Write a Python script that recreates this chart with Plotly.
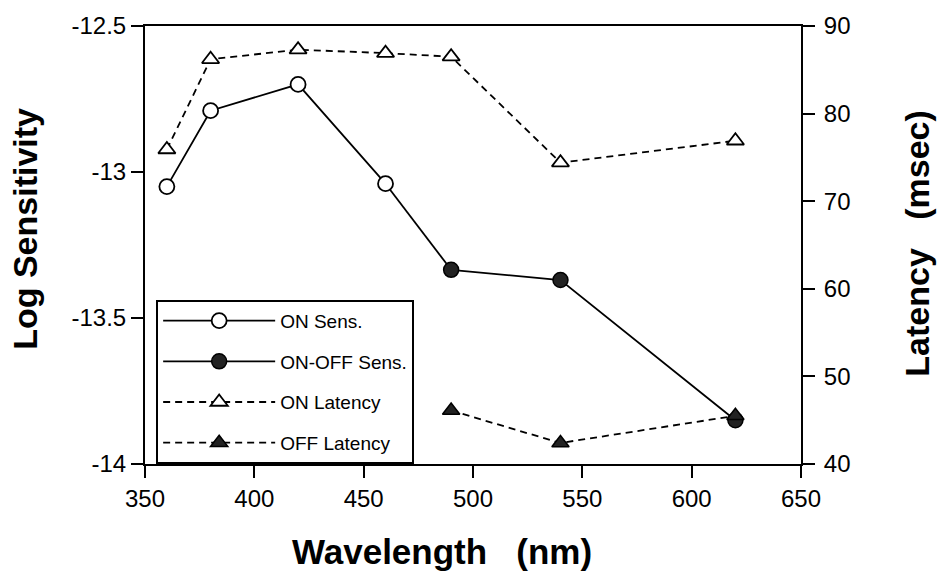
import plotly.graph_objects as go

# ---- data ----
wl_on_sens = [360, 380, 420, 460]
on_sens = [-13.05, -12.79, -12.70, -13.04]

wl_onoff_sens = [490, 540, 620]
onoff_sens = [-13.335, -13.37, -13.85]

wl_on_lat = [360, 380, 420, 460, 490, 540, 620]
on_lat = [75.9, 86.2, 87.3, 86.9, 86.5, 74.4, 76.9]

wl_off_lat = [490, 540, 620]
off_lat = [46.1, 42.4, 45.5]

x_ticks = [350, 400, 450, 500, 550, 600, 650]
y_left_ticks = [-14, -13.5, -13, -12.5]
y_left_text = ["-14", "-13.5", "-13", "-12.5"]
y_right_ticks = [40, 50, 60, 70, 80, 90]

x_title = "Wavelength\u00a0\u00a0\u00a0(nm)"
y_title = "Log Sensitivity"
y2_title = "Latency\u00a0\u00a0\u00a0(msec)"

FONT = "Liberation Sans, Arial, Helvetica, sans-serif"
LW = 1.8

fig = go.Figure()

# solid connector between open and filled circle series
fig.add_trace(go.Scatter(
    x=[wl_on_sens[-1], wl_onoff_sens[0]], y=[on_sens[-1], onoff_sens[0]],
    mode="lines", line=dict(color="black", width=LW), showlegend=False,
    hoverinfo="skip"))

fig.add_trace(go.Scatter(
    x=wl_on_sens, y=on_sens, name="ON Sens.", mode="lines+markers",
    line=dict(color="black", width=LW),
    marker=dict(symbol="circle", size=15, color="white",
                line=dict(color="black", width=1.8)),
    legendgroup="a"))

fig.add_trace(go.Scatter(
    x=wl_onoff_sens, y=onoff_sens, name="ON-OFF Sens.", mode="lines+markers",
    line=dict(color="black", width=LW),
    marker=dict(symbol="circle", size=15, color="#222222",
                line=dict(color="black", width=1.5)),
    legendgroup="b"))

fig.add_trace(go.Scatter(
    x=wl_on_lat, y=on_lat, name="ON Latency", mode="lines+markers",
    yaxis="y2",
    line=dict(color="black", width=LW, dash="7px,5px"),
    marker=dict(symbol="triangle-up", size=15, color="white",
                line=dict(color="black", width=1.8)),
    legendgroup="c"))

fig.add_trace(go.Scatter(
    x=wl_off_lat, y=off_lat, name="OFF Latency", mode="lines+markers",
    yaxis="y2",
    line=dict(color="black", width=LW, dash="7px,5px"),
    marker=dict(symbol="triangle-up", size=15, color="#222222",
                line=dict(color="black", width=1.5)),
    legendgroup="d"))

axis_common = dict(
    showline=True, linecolor="black", linewidth=2,
    ticks="outside", ticklen=12, tickwidth=2, tickcolor="black",
    showgrid=False, zeroline=False,
    tickfont=dict(family=FONT, size=24, color="black"),
)

x_title_font = dict(family=FONT, size=35, color="black", weight="bold")
y_title_font = dict(family=FONT, size=34, color="black", weight="bold")

fig.update_layout(
    width=944, height=580,
    margin=dict(l=145, r=143, t=21, b=116),
    paper_bgcolor="white", plot_bgcolor="white",
    xaxis=dict(range=[350, 650], tickvals=x_ticks, mirror=True, **axis_common),
    yaxis=dict(range=[-14, -12.5], tickvals=y_left_ticks, ticktext=y_left_text,
               **axis_common),
    yaxis2=dict(range=[40, 90], tickvals=y_right_ticks, overlaying="y", side="right",
                ticklabelstandoff=4, **axis_common),
    legend=dict(
        x=0.017, y=0.375, xanchor="left", yanchor="top",
        bordercolor="black", borderwidth=2, bgcolor="white",
        font=dict(family=FONT, size=19, color="black"),
        itemwidth=112, tracegroupgap=13,
    ),
    showlegend=True,
    annotations=[
        dict(text=x_title, xref="paper", yref="paper", x=0.4527, y=-0.2009,
             xanchor="center", yanchor="middle", showarrow=False, font=x_title_font),
        dict(text=y_title, xref="paper", yref="paper", x=-0.1829, y=0.537,
             xanchor="center", yanchor="middle", showarrow=False, textangle=-90,
             font=y_title_font),
        dict(text=y2_title, xref="paper", yref="paper", x=1.1768, y=0.503,
             xanchor="center", yanchor="middle", showarrow=False, textangle=-90,
             font=y_title_font),
    ],
)

fig.write_html("out.html")
